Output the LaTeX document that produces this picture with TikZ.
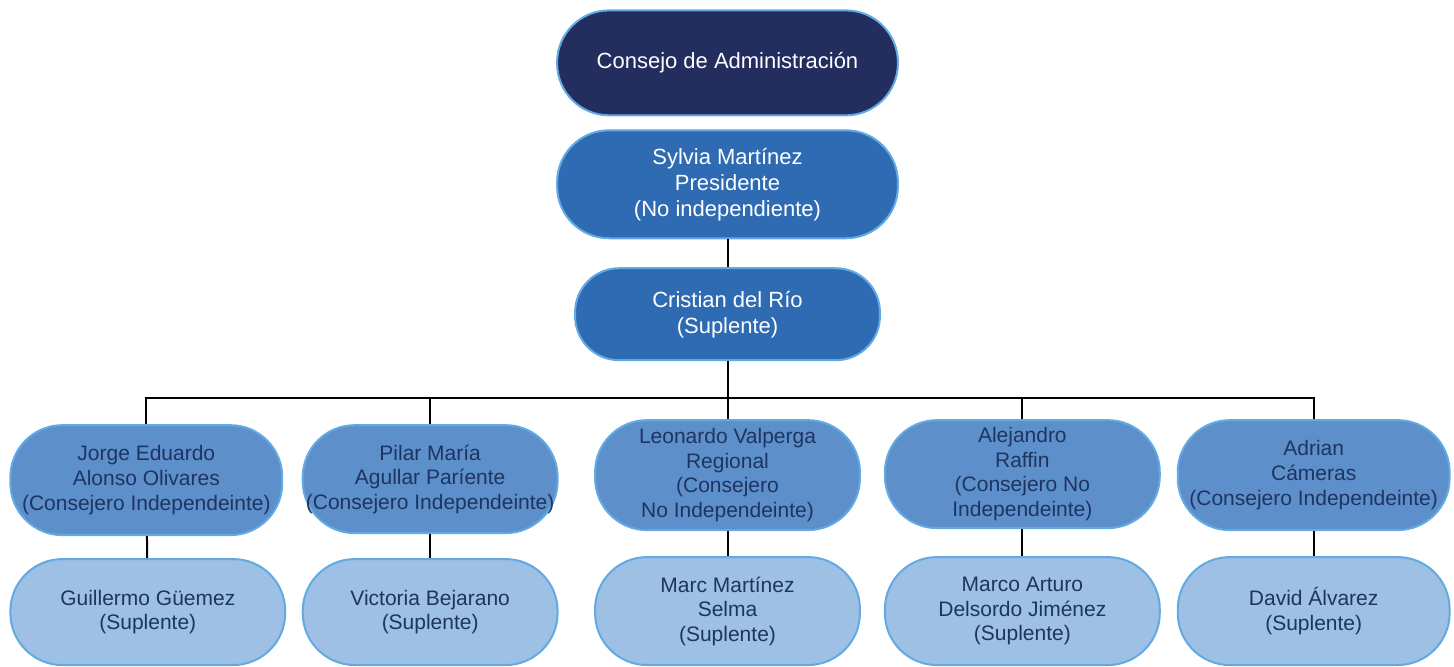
\documentclass[tikz,border=0pt]{standalone}
\usepackage{fontspec}
\setmainfont{Liberation Sans}
\definecolor{navy}{HTML}{232D5E}
\definecolor{presblue}{HTML}{2F6BB2}
\definecolor{membblue}{HTML}{5D8FCB}
\definecolor{suplblue}{HTML}{9DC0E4}
\definecolor{rimblue}{HTML}{62AAE3}
\definecolor{inkdark}{HTML}{1E3461}

\begin{document}
\begin{tikzpicture}[x=0.5pt,y=-0.5pt,
  pill/.style={rectangle,rounded corners=26pt,draw=rimblue,line width=1pt,align=center,inner sep=1pt},
  boardbox/.style={pill,fill=navy,text=white,font=\fontsize{11}{13.5}\selectfont},
  chairbox/.style={pill,fill=presblue,text=white,font=\fontsize{11}{13}\selectfont},
  memberbox/.style={pill,fill=membblue,text=inkdark,font=\fontsize{10.5}{12.3}\selectfont},
  altbox/.style={pill,fill=suplblue,text=inkdark,font=\fontsize{10.5}{12.3}\selectfont},
  wire/.style={draw=black,line width=1pt}]
\filldraw[color=white] (0.000000,0.000000) rectangle (1454.000000,666.000000);
\useasboundingbox (0.000000,0.000000) rectangle (1454.000000,666.000000);
% Drawing the top of the chart
\node[boardbox,minimum width=170.5pt,minimum height=52.5pt] (board) at (727.500000,62.500000) {Consejo de Administración};
\node[chairbox,minimum width=170.5pt,minimum height=54pt] (chair) at (727.500000,184.000000) {Sylvia Martínez\\Presidente\\(No independiente)};
\node[chairbox,rounded corners=22pt,minimum width=152.5pt,minimum height=46pt] (alt) at (727.500000,314.000000) {Cristian del Río\\(Suplente)};
\coordinate (bus) at (727.500000,398.000000);
% Drawing the members
\node[memberbox,minimum width=136pt,minimum height=55pt] (jorge) at (146.000000,480.000000) {Jorge Eduardo\\Alonso Olivares\\(Consejero Independeinte)};
\node[memberbox,minimum width=127.5pt,minimum height=54pt] (pilar) at (430.000000,479.000000) {Pilar María\\Agullar Paríente\\(Consejero Independeinte)};
\node[memberbox,minimum width=132.5pt,minimum height=55pt] (leo) at (727.500000,475.000000) {Leonardo Valperga\\Regional\\(Consejero\\No Independeinte)};
\node[memberbox,minimum width=137.5pt,minimum height=54pt] (alej) at (1022.500000,474.000000) {Alejandro\\Raffin\\(Consejero No\\Independeinte)};
\node[memberbox,minimum width=136pt,minimum height=55pt] (adri) at (1314.000000,475.000000) {Adrian\\Cámeras\\(Consejero Independeinte)};
% Drawing the substitutes
\node[altbox,minimum width=137.5pt,minimum height=53pt] (guil) at (147.500000,612.000000) {Guillermo Güemez\\(Suplente)};
\node[altbox,minimum width=127.5pt,minimum height=53pt] (vict) at (430.000000,612.000000) {Victoria Bejarano\\(Suplente)};
\node[altbox,minimum width=132.5pt,minimum height=54pt] (marc) at (727.500000,611.000000) {Marc Martínez\\Selma\\(Suplente)};
\node[altbox,minimum width=137.5pt,minimum height=54pt] (marco) at (1022.500000,611.000000) {Marco Arturo\\Delsordo Jiménez\\(Suplente)};
\node[altbox,minimum width=136pt,minimum height=54pt] (david) at (1314.000000,611.000000) {David Álvarez\\(Suplente)};
% Drawing the wires
\draw[wire] (chair) -- (alt);
\draw[wire] (alt) -- (bus);
\draw[wire] (bus) -| (jorge);
\draw[wire] (bus) -| (pilar);
\draw[wire] (bus) -- (leo);
\draw[wire] (bus) -| (alej);
\draw[wire] (bus) -| (adri);
\draw[wire] (jorge) -- (guil);
\draw[wire] (pilar) -- (vict);
\draw[wire] (leo) -- (marc);
\draw[wire] (alej) -- (marco);
\draw[wire] (adri) -- (david);
% Done
\end{tikzpicture}
\end{document}
